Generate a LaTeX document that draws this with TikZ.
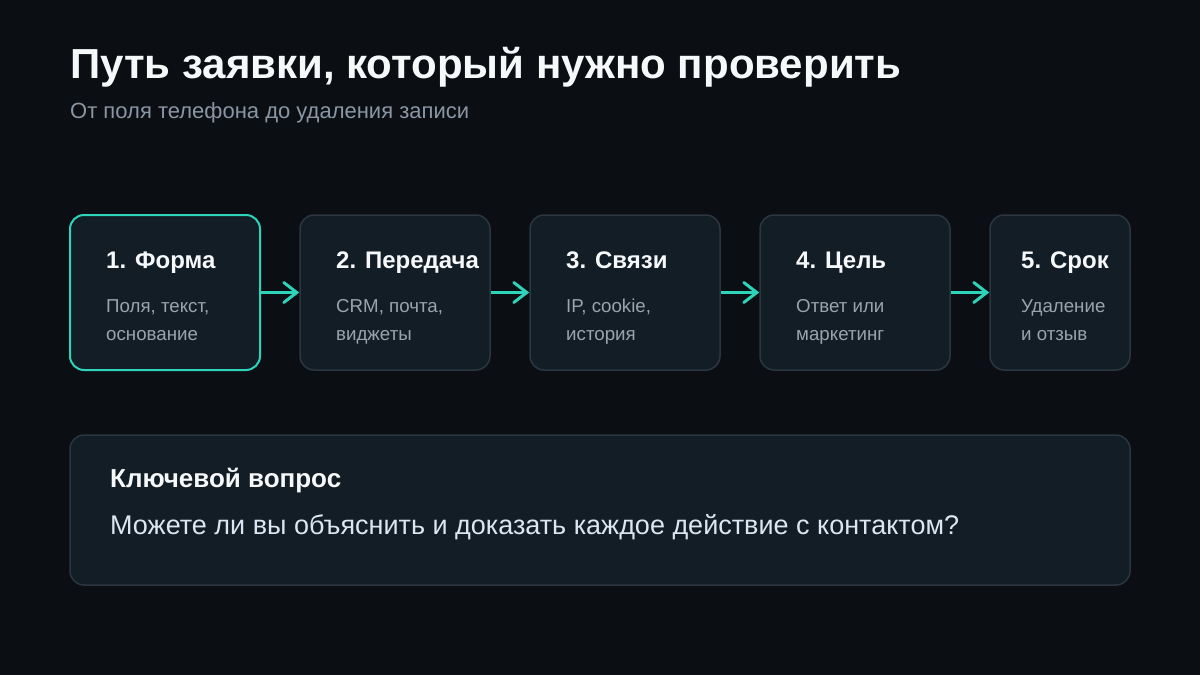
\documentclass[tikz,border=0pt]{standalone}
\usepackage{fontspec}
\setmainfont{Liberation Sans}
\usetikzlibrary{arrows.meta}
\definecolor{bg}{HTML}{0B0F14}
\definecolor{boxfill}{HTML}{121D26}
\definecolor{boxline}{HTML}{2B3641}
\definecolor{teal}{HTML}{2DD4BA}
\definecolor{titlec}{HTML}{F6F8FA}
\definecolor{subc}{HTML}{8A96A3}
\definecolor{smallc}{HTML}{9AA4AE}
\definecolor{qc}{HTML}{DCE6F2}
\tikzset{
  box/.style={draw=boxline, line width=1.5pt, fill=boxfill, rounded corners=14pt, inner sep=0pt},
  activebox/.style={box, draw=teal, line width=2pt},
  stitle/.style={anchor=base west, inner sep=0pt, text=titlec, font=\fontsize{24}{28}\selectfont\bfseries},
  sdesc/.style={anchor=base west, inner sep=0pt, text=smallc, font=\fontsize{18.7}{28}\selectfont, align=left},
  arr/.style={draw=teal, line width=3pt, -{Straight Barb[length=13pt,width=20pt,line cap=round]}},
}
\begin{document}
\begin{tikzpicture}[x=1pt,y=-1pt]
\useasboundingbox[fill=bg] (0,0) rectangle (1200,675);
\node[anchor=base west, inner sep=0pt, text=titlec, font=\fontsize{42}{50}\selectfont\bfseries] (title) at (70,78) {Путь заявки, который нужно проверить};
\node[anchor=base west, inner sep=0pt, text=subc, font=\fontsize{22}{26}\selectfont] (subtitle) at (70,118) {От поля телефона до удаления записи};
% boxes
\node[activebox, minimum width=190pt, minimum height=155pt] (b1) at (165,292.5) {};
\node[box, minimum width=190pt, minimum height=155pt] (b2) at (395,292.5) {};
\node[box, minimum width=190pt, minimum height=155pt] (b3) at (625,292.5) {};
\node[box, minimum width=190pt, minimum height=155pt] (b4) at (855,292.5) {};
\node[box, minimum width=140pt, minimum height=155pt] (b5) at (1060,292.5) {};
% texts
\node[stitle] (t1) at (106,268) {1. Форма};
\node[sdesc] (d1) at (106,340) {Поля, текст,\\основание};
\node[stitle] (t2) at (336,268) {2. Передача};
\node[sdesc] (d2) at (336,340) {CRM, почта,\\виджеты};
\node[stitle] (t3) at (566,268) {3. Связи};
\node[sdesc] (d3) at (566,340) {IP, cookie,\\история};
\node[stitle] (t4) at (796,268) {4. Цель};
\node[sdesc] (d4) at (796,340) {Ответ или\\маркетинг};
\node[stitle] (t5) at (1021,268) {5. Срок};
\node[sdesc] (d5) at (1021,340) {Удаление\\и отзыв};
% arrows
\draw[arr] (b1.east) -- (b2.west);
\draw[arr] (b2.east) -- (b3.west);
\draw[arr] (b3.east) -- (b4.west);
\draw[arr] (b4.east) -- (b5.west);
% bottom box
\node[box, minimum width=1060pt, minimum height=150pt] (q) at (600,510) {};
\node[stitle, font=\fontsize{26}{30}\selectfont\bfseries] (qt) at (110,487) {Ключевой вопрос};
\node[anchor=base west, inner sep=0pt, text=qc, font=\fontsize{27}{32}\selectfont] (qd) at (110,534) {Можете ли вы объяснить и доказать каждое действие с контактом?};
\end{tikzpicture}
\end{document}
